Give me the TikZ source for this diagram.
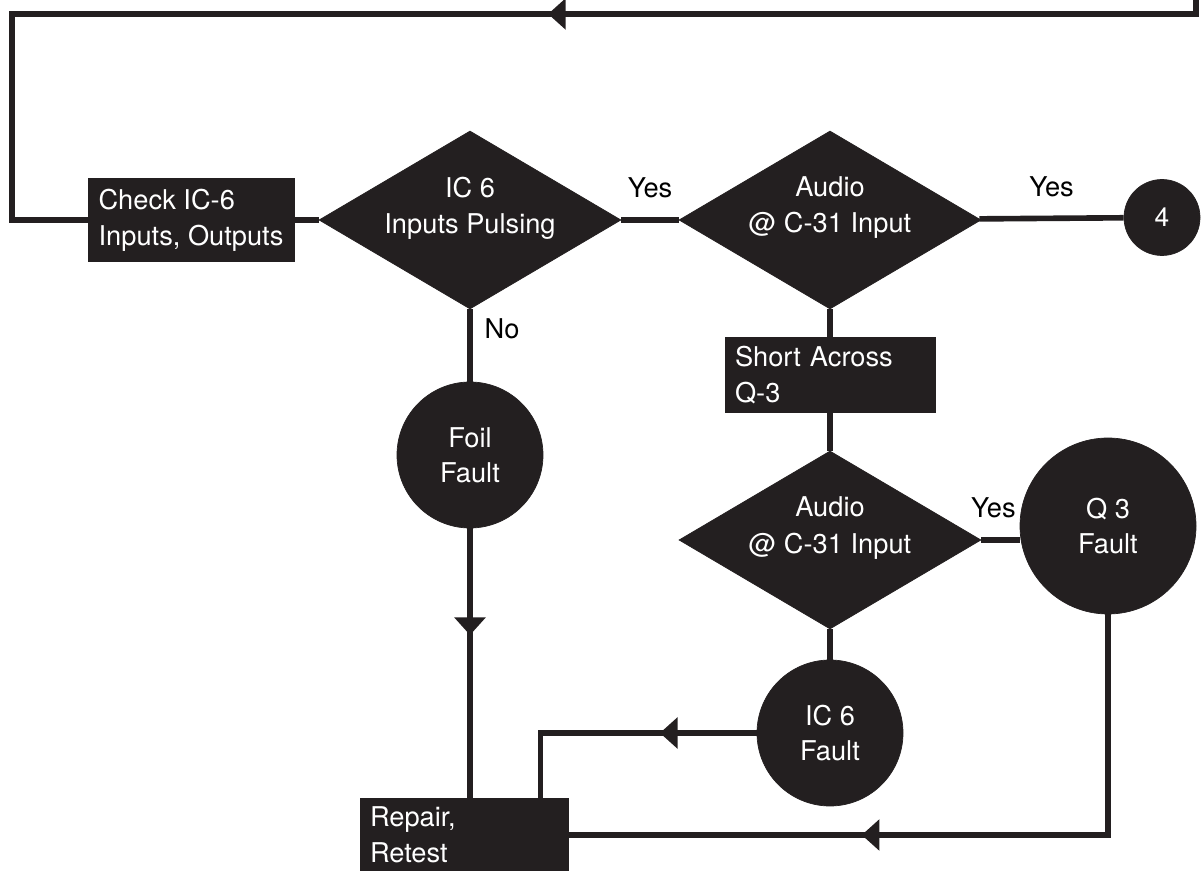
\documentclass[tikz,border=0pt]{standalone}
\usepackage{fontspec}
\setmainfont{TeX Gyre Heros}
\usetikzlibrary{shapes,shapes.geometric,arrows,calc,positioning,decorations.markings}
\definecolor{ink}{HTML}{231F20}
\tikzset{proc/.style={rectangle,draw=ink,fill=ink,text=white,align=left,inner xsep=0.2cm,inner ysep=0pt,font=\fontsize{15.5}{20.5}\selectfont},
test/.style={diamond,draw=ink,fill=ink,text=white,aspect=1.7,minimum width=6.04cm,minimum height=3.56cm,inner sep=-0.3cm,align=center,text depth=17pt,font=\fontsize{15.5}{20.5}\selectfont},
stop/.style={circle,draw=ink,fill=ink,text=white,inner sep=0pt,align=center,font=\fontsize{15.5}{20}\selectfont},
flow/.style={draw=ink,line width=3.2pt},
lbl/.style={text=black,font=\fontsize{15.5}{19}\selectfont},
midarrow/.style={postaction={decorate,decoration={markings,mark=at position #1 with {\fill[ink] (0pt,0pt) -- (-10pt,9pt) -- (-10pt,-9pt) -- cycle;}}}}}

\begin{document}
\begin{tikzpicture}[auto]
\useasboundingbox (0,0) rectangle (24.04,17.4);
\node[proc, minimum width=4.12cm, minimum height=1.66cm] at (3.82,13.0) (check){Check IC-6\\Inputs, Outputs};
\node[test] at (9.4,13.0) (pulse){IC 6\\Inputs Pulsing};
\node[test] at (16.6,13.0) (audio1){Audio\\@ C-31 Input};
\node[stop, minimum size=1.52cm, font=\fontsize{15}{17}\selectfont] at (23.24,13.05) (four){4};
\node[proc, text width=3.8cm, minimum height=1.5cm][below of =audio1, node distance=3.1cm] (short){Short Across\\Q-3};
\node[test][below of =short, node distance=3.3cm] (audio2){Audio\\@ C-31 Input};
\node[stop, minimum size=3.52cm] at (22.16,6.88) (q3f){Q 3\\Fault};
\node[stop, minimum size=2.92cm][below of =audio2, node distance=3.86cm] (ic6f){IC 6\\Fault};
\node[stop, minimum size=2.92cm][below of =pulse, node distance=4.7cm] (foil){Foil\\Fault};
\node[proc, text width=3.76cm, minimum height=1.48cm] at (9.28,0.7) (repair){Repair,\\Retest};

\coordinate (in) at (23.92,17.6);
\coordinate (tr) at (23.92,17.12);
\coordinate (tl) at (0.24,17.12);

\draw[flow](check) edge (pulse)
(pulse) edge node[lbl, above=0.26cm] {Yes} (audio1)
(audio1) edge node[lbl, above=0.26cm] {Yes} (four)
(audio1) edge (short)
(short) edge (audio2)
(audio2.east) edge node[lbl, above=0.26cm, xshift=-4pt] {Yes} (audio2.east -| q3f.west)
(audio2) edge (ic6f)
(pulse) edge node[lbl, pos=0.27, right=0.12cm] {No} (foil);

\draw[flow, midarrow=0.451] (in) -- (tr) -- (tl) |- (check.west);
\draw[flow, midarrow=0.396] (foil.south) -- (foil.south |- repair.north);
\draw[flow, midarrow=0.344] (ic6f.west) -| ($(repair.north east)+(-0.56,0)$);
\draw[flow, midarrow=0.614] (q3f.south) |- (repair.east);
\end{tikzpicture}
\end{document}
